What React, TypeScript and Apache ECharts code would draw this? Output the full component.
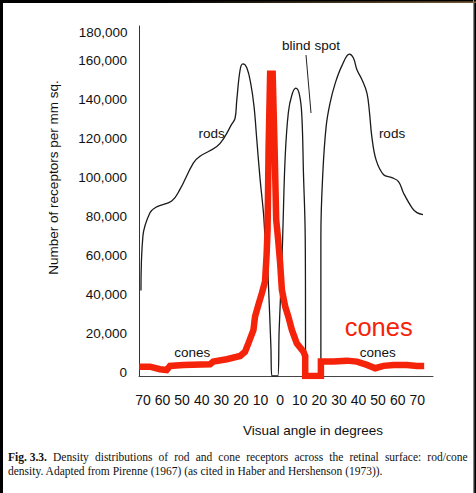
import React, { useEffect, useRef } from 'react';
import * as echarts from 'echarts';

// Visual angle (degrees, temporal negative / nasal positive) and density (receptors per mm²)
const rodsAngle = [-71.0, -70.0, -66.4, -63.0, -55.3, -51.1, -44.3, -40.9, -32.3, -28.6, -24.7, -23.0, -22.1, -20.4, -19.0, -17.0, -15.0, -13.3, -11.9, -10.2, -8.5, -7.7, -6.8, -6.0, -4.7, -4.2, -1.2, -0.5, 0.9, 1.4, 2.6, 4.2, 6.0, 8.0, 9.9, 11.1, 11.9, 12.8, 13.1, 20.8, 20.8, 21.8, 23.5, 25.5, 28.1, 31.5, 35.4, 37.4, 39.2, 41.7, 44.3, 45.6, 46.8, 49.0, 52.8, 57.0, 60.4, 63.0, 67.3, 69.8, 72.9];
const rodsDensity = [44000, 72000, 84000, 87000, 90000, 96000, 109500, 113000, 118000, 122500, 129500, 132500, 142000, 157500, 160500, 158500, 150500, 138500, 121500, 101000, 84000, 72000, 65000, 48000, 15000, 0, 0, 23500, 58000, 75000, 113000, 135500, 144500, 148000, 144500, 133500, 104500, 72000, 0, 0, 72000, 104500, 128500, 140500, 150500, 159500, 165500, 163500, 157500, 152500, 145500, 135500, 123000, 111000, 103500, 102000, 100000, 94000, 86500, 84000, 83000];

const conesAngle = [-71.9, -66.4, -61.3, -57.9, -56.2, -49.4, -35.8, -34.1, -27.2, -20.4, -17.9, -16.2, -13.6, -12.8, -11.1, -9.3, -7.7, -6.9, -6.4, -5.9, -5.1, -3.8, -2.8, -2.0, -1.0, 0.0, 0.9, 2.6, 4.2, 6.0, 8.5, 11.9, 12.8, 12.8, 20.8, 20.8, 27.2, 34.1, 39.2, 44.3, 48.5, 52.8, 57.9, 64.7, 69.8, 73.5];
const conesDensity = [4800, 4800, 3500, 3100, 5200, 5700, 6000, 7400, 8600, 10300, 12500, 16800, 23700, 30500, 36600, 42600, 48600, 62300, 75200, 116400, 155500, 155500, 116400, 80300, 70000, 58200, 44300, 35700, 30500, 23700, 16800, 12500, 10300, 0, 0, 7400, 7400, 7900, 7400, 5700, 4000, 5200, 5700, 5700, 5200, 5200];

const xTickValues = [-70, -60, -50, -40, -30, -20, -10, 0, 10, 20, 30, 40, 50, 60, 70];
const yTopLabel = '180,000';

const xAxisName = 'Visual angle in degrees';
const yAxisName = 'Number of receptors per mm sq.';
const captionBold = 'Fig. 3.3.';
const captionLine1Words = ['Density', 'distributions', 'of', 'rod', 'and', 'cone', 'receptors', 'across', 'the', 'retinal', 'surface:', 'rod/cone'];
const captionLine2 = 'density. Adapted from Pirenne (1967) (as cited in Haber and Hershenson (1973)).';

const SANS = "'Liberation Sans', Arial, Helvetica, sans-serif";
const SERIF = "'Liberation Serif', 'Times New Roman', serif";
const RED = '#f5230a';
const INK = '#111';

export default function App() {
  const ref = useRef<HTMLDivElement>(null);
  useEffect(() => {
    if (!ref.current) return;
    const chart = echarts.init(ref.current, null, { renderer: 'svg' });
    const rods = rodsAngle.map((a, i) => [a, rodsDensity[i]]);
    const cones = conesAngle.map((a, i) => [a, conesDensity[i]]);
    const labelText = (text: string, x: number, y: number, size = 13.5, color = INK) => ({
      type: 'text', x, y, z: 50,
      style: { text, fontSize: size, fontFamily: SANS, fill: color, align: 'center', verticalAlign: 'middle' },
    });
    chart.setOption({
      animation: false,
      backgroundColor: '#fff',
      grid: { left: 139, right: 43, top: 26, bottom: 117 },
      xAxis: {
        type: 'value', min: -72, max: 78,
        axisLine: { show: true, onZero: false, lineStyle: { color: '#444', width: 1 } },
        axisTick: { show: false },
        splitLine: { show: false },
        axisLabel: {
          customValues: xTickValues,
          formatter: (v: number) => String(Math.abs(v)),
          color: INK, fontSize: 14, fontFamily: SANS, margin: 17,
        },
      },
      yAxis: {
        type: 'value', min: 0, max: 180000, interval: 20000,
        axisLine: { show: true, onZero: false, lineStyle: { color: '#333', width: 1 } },
        axisTick: { show: false },
        splitLine: { show: false },
        axisLabel: {
          showMaxLabel: false,
          formatter: (v: number) => v.toLocaleString('en-US'),
          color: INK, fontSize: 13.5, fontFamily: SANS, margin: 12,
          verticalAlign: 'bottom', lineHeight: 8,
        },
      },
      series: [
        {
          name: 'rods', type: 'line', data: rods, showSymbol: false, smooth: 0.4,
          lineStyle: { color: '#1a1a1a', width: 1.3 }, z: 2,
        },
        {
          name: 'cones', type: 'line', data: cones, showSymbol: false, smooth: false,
          lineStyle: { color: RED, width: 6.5, join: 'miter', cap: 'butt' }, z: 3,
        },
      ],
      graphic: [
        { type: 'rect', shape: { x: 0, y: 0, width: 476, height: 3 }, style: { fill: '#000' }, z: 100 },
        { type: 'rect', shape: { x: 150, y: 1.5, width: 326, height: 1.2 },
          style: { fill: new echarts.graphic.LinearGradient(0, 0, 1, 0, [{ offset: 0, color: '#000' }, { offset: 1, color: '#9a7848' }]) }, z: 101 },
        { type: 'rect', shape: { x: 0, y: 0, width: 3, height: 493 }, style: { fill: '#000' }, z: 100 },
        { type: 'rect', shape: { x: 473, y: 0, width: 1.2, height: 493 }, style: { fill: '#888' }, z: 100 },
        { type: 'rect', shape: { x: 474.2, y: 0, width: 2, height: 493 }, style: { fill: '#000' }, z: 100 },
        {
          type: 'text', x: 53, y: 177.5, rotation: Math.PI / 2, z: 50,
          style: { text: yAxisName, fontSize: 13.5, fontFamily: SANS, fill: INK, align: 'center', verticalAlign: 'middle' },
        },
        {
          type: 'text', x: 127.5, y: 32.7, z: 50,
          style: { text: yTopLabel, fontSize: 13.5, fontFamily: SANS, fill: INK, align: 'right', verticalAlign: 'middle' },
        },
        labelText(xAxisName, 313, 430.7),
        labelText('blind spot', 311, 45),
        { type: 'line', shape: { x1: 306, y1: 55, x2: 311, y2: 113 }, style: { stroke: '#222', lineWidth: 1 }, z: 50 },
        labelText('rods', 211.7, 133.3),
        labelText('rods', 392, 133.3),
        labelText('cones', 192.3, 352.3),
        labelText('cones', 377.7, 352.3),
        labelText('cones', 378.7, 326.7, 25.5, RED),
        {
          type: 'text', x: 8, y: 457.3, z: 50,
          style: {
            text: '{b|' + captionBold + '}' + captionLine1Words.map((w) => '{s| }' + w).join(''),
            rich: {
              b: { fontWeight: 'bold', fontFamily: SERIF, fontSize: 11.5, fill: INK },
              s: { width: 6.1, fontFamily: SERIF, fontSize: 11.5 },
            },
            fontSize: 11.5, fontFamily: SERIF, fill: INK, align: 'left', verticalAlign: 'middle',
          },
        },
        {
          type: 'text', x: 8, y: 470.7, z: 50,
          style: { text: captionLine2, fontSize: 11.5, fontFamily: SERIF, fill: INK, align: 'left', verticalAlign: 'middle' },
        },
      ],
    });
    return () => chart.dispose();
  }, []);
  return <div ref={ref} style={{ position: 'absolute', left: 0, top: 0, width: 476, height: 493, background: '#fff' }} />;
}
